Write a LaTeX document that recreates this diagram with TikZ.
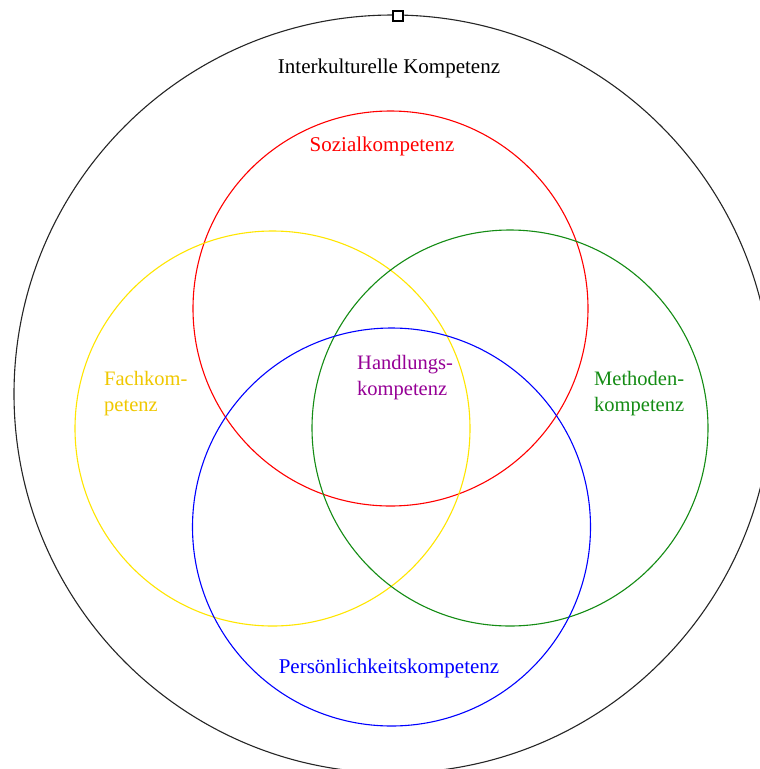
\documentclass[tikz,border=0pt]{standalone}
\usepackage{fontspec}
\setmainfont{Liberation Serif}
\definecolor{cyel}{RGB}{255,230,0}
\definecolor{cyeltxt}{RGB}{240,200,0}
\definecolor{cgreen}{RGB}{20,140,20}
\definecolor{cpurple}{RGB}{150,0,150}
\begin{document}
\begin{tikzpicture}[x=1pt,y=-1pt,
  ring/.style={line width=1.1pt},
  lbl/.style={font=\fontsize{21}{24}\selectfont, inner sep=0pt},
  lbl2/.style={font=\fontsize{20.5}{26}\selectfont, inner sep=0pt, align=left, anchor=west}]
\useasboundingbox (0,0) rectangle (760,769);
\fill[white] (0,0) rectangle (760,769);
\begin{scope}
\clip (0,0) rectangle (760,769);
\draw[ring, black!85] (393,394) circle[radius=379];
\end{scope}
\node[draw, line width=1.2pt, fill=white, minimum size=10pt, inner sep=0pt] (handle) at (398,16) {};
\draw[ring, red] (390.5,308.5) circle[radius=197.5];
\draw[ring, cyel] (272.5,428.5) circle[radius=197.5];
\draw[ring, cgreen] (510,428) circle[radius=198];
\draw[ring, blue] (391.5,527) circle[radius=199];
\node[lbl] (ik) at (389,68) {Interkulturelle Kompetenz};
\node[lbl, text=red] (sk) at (382,146) {Sozialkompetenz};
\node[lbl2, text=cyeltxt] (fk) at (104,394) {Fachkom-\\petenz};
\node[lbl2, text=cpurple] (hk) at (357,378) {Handlungs-\\kompetenz};
\node[lbl2, text=cgreen] (mk) at (594,394) {Methoden-\\kompetenz};
\node[lbl, text=blue] (pk) at (389,668) {Persönlichkeitskompetenz};
\end{tikzpicture}
\end{document}
